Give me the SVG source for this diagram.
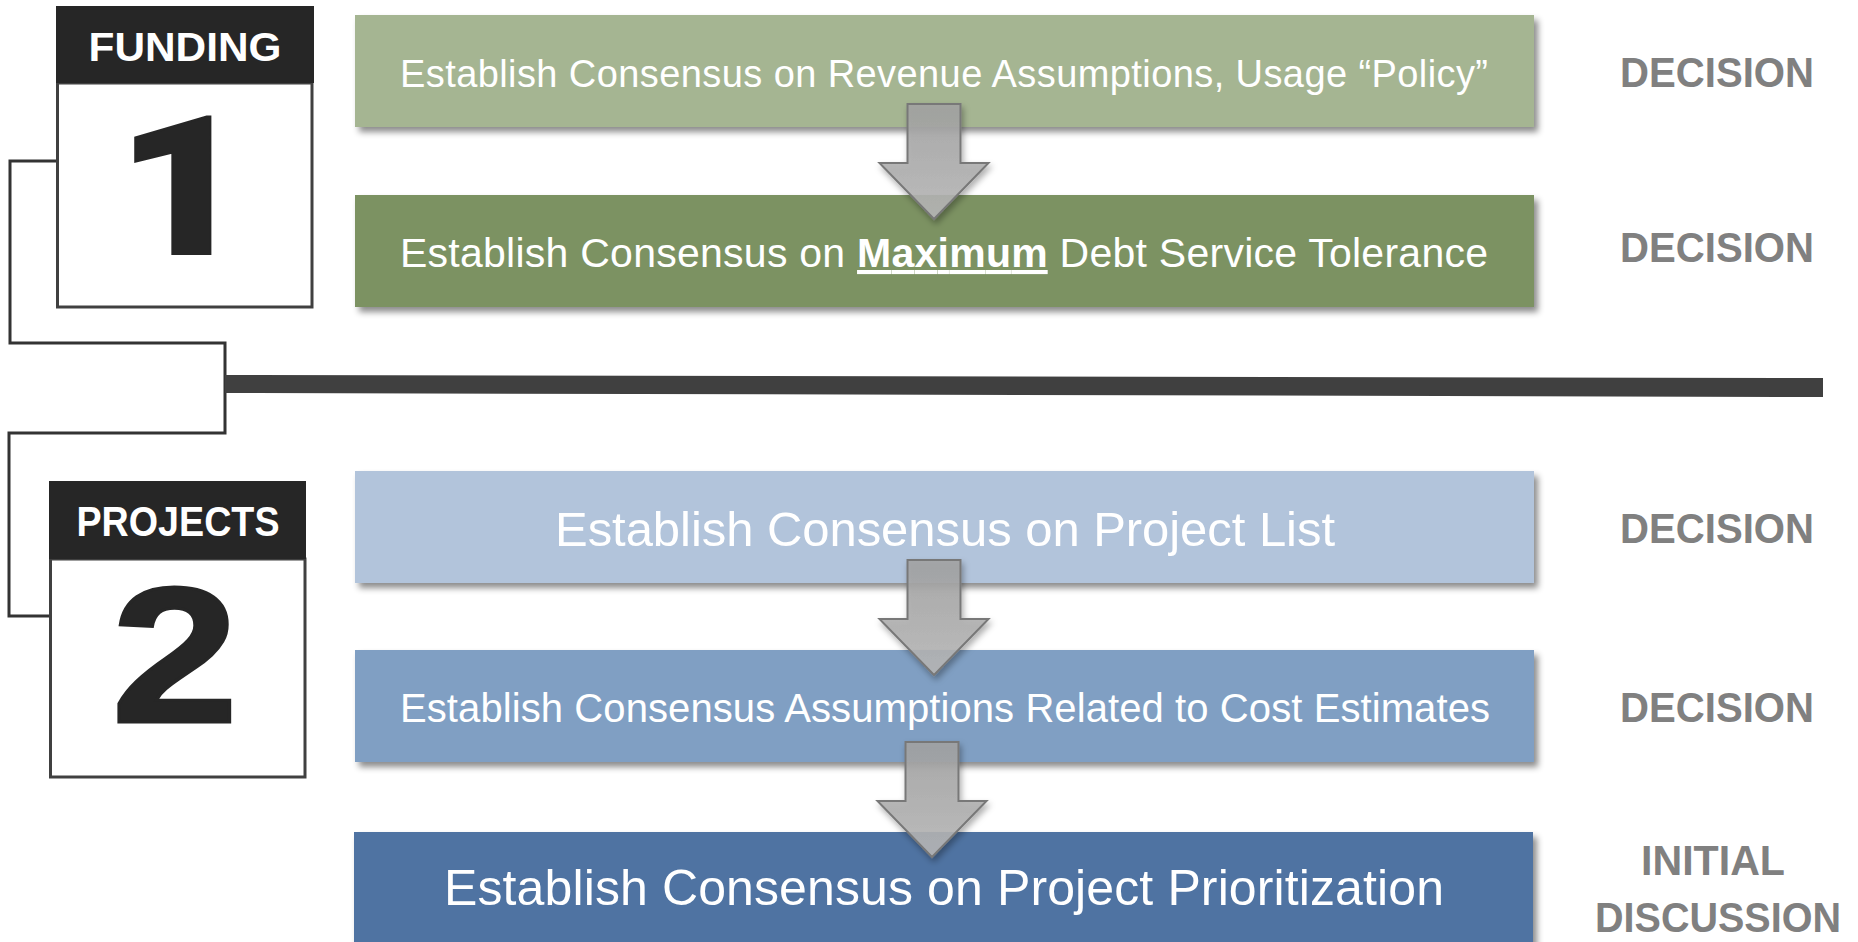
<svg xmlns="http://www.w3.org/2000/svg" width="1858" height="942" viewBox="0 0 1858 942">
<style>
.box{filter:url(#sh)}
.bt{font-family:"Liberation Sans",Arial,sans-serif;fill:#ffffff;text-anchor:middle}
.lab{font-family:"Liberation Sans",Arial,sans-serif;font-weight:bold;fill:#808080;font-size:42px;text-anchor:middle}
.hdr{fill:#262626}
.card{fill:#ffffff;stroke:#404040;stroke-width:3}
.ht{font-family:"Liberation Sans",Arial,sans-serif;font-weight:bold;fill:#ffffff;text-anchor:middle}
.num{font-family:"Liberation Sans",Arial,sans-serif;font-weight:bold;fill:#262626;stroke:#262626;stroke-width:3;text-anchor:middle}
.num1{font-family:Roboto,"Liberation Sans",Arial,sans-serif;font-weight:900;fill:#262626;stroke:#262626;stroke-width:2;text-anchor:middle}
.wire{fill:none;stroke:#333333;stroke-width:3}
.arr{fill:url(#ag);fill-opacity:0.88;stroke:#787878;stroke-width:2;filter:url(#ash)}
</style>
<defs>
<filter id="sh" x="-5%" y="-20%" width="110%" height="150%">
<feDropShadow dx="4" dy="5" stdDeviation="3" flood-color="#000" flood-opacity="0.45"/>
</filter>
<filter id="ash" x="-30%" y="-20%" width="160%" height="150%">
<feDropShadow dx="2" dy="4" stdDeviation="3" flood-color="#000" flood-opacity="0.35"/>
</filter>
<linearGradient id="ag" x1="0" y1="0" x2="0" y2="1">
<stop offset="0" stop-color="#A2A2A2"/>
<stop offset="1" stop-color="#B8B8B8"/>
</linearGradient>
<path id="arrow" d="M-26.5,0 H26.5 V59 H54.5 L0,115 L-54.5,59 H-26.5 Z"/>
</defs>
<rect width="1858" height="942" fill="#ffffff"/>

<g id="connectors">
<path class="wire" d="M56,161 H10 V343 H225 V433 H9 V616 H51"/>
<polygon points="225,375 1823,378 1823,397 225,393" fill="#404040"/>
</g>

<g id="funding">
<rect class="card" x="57.5" y="83" width="254.5" height="224"/>
<rect class="hdr" x="56" y="6" width="258" height="77"/>
<text class="ht" x="185" y="61" font-size="41" textLength="193" lengthAdjust="spacingAndGlyphs">FUNDING</text>
<text class="num1" transform="translate(183,254) scale(1.18,1)" font-size="194">1</text>
</g>

<g id="projects">
<rect class="card" x="50.5" y="559" width="254.5" height="218"/>
<rect class="hdr" x="49" y="481" width="257" height="78"/>
<text class="ht" x="178" y="536" font-size="42" textLength="203" lengthAdjust="spacingAndGlyphs">PROJECTS</text>
<text class="num" transform="translate(175,722) scale(1.18,1)" font-size="194">2</text>
</g>

<g id="step1">
<rect class="box" x="355" y="15" width="1179" height="112" fill="#A5B592"/>
<text class="bt" x="944" y="87" font-size="38" textLength="1088">Establish Consensus on Revenue Assumptions,  Usage “Policy”</text>
</g>

<g id="step2">
<rect class="box" x="355" y="195" width="1179" height="112" fill="#7C9262"/>
<text class="bt" x="944" y="267" font-size="41" textLength="1088">Establish Consensus on <tspan font-weight="bold" text-decoration="underline">Maximum</tspan> Debt Service Tolerance</text>
</g>

<g id="step3">
<rect class="box" x="355" y="471" width="1179" height="112" fill="#B2C4DB"/>
<text class="bt" x="945" y="546" font-size="49" textLength="780">Establish Consensus on Project List</text>
</g>

<g id="step4">
<rect class="box" x="355" y="650" width="1179" height="112" fill="#809FC3"/>
<text class="bt" x="945" y="722" font-size="40" textLength="1090">Establish Consensus Assumptions Related to Cost Estimates</text>
</g>

<g id="step5">
<rect class="box" x="354" y="832" width="1179" height="130" fill="#4F73A2"/>
<text class="bt" x="944" y="905" font-size="50" textLength="1000">Establish Consensus on Project Prioritization</text>
</g>

<g id="arrows">
<use href="#arrow" class="arr" transform="translate(934,104)"/>
<use href="#arrow" class="arr" transform="translate(934,560)"/>
<use href="#arrow" class="arr" transform="translate(932,742)"/>
</g>

<g id="labels">
<text class="lab" x="1717" y="87" textLength="194" lengthAdjust="spacingAndGlyphs">DECISION</text>
<text class="lab" x="1717" y="262" textLength="194" lengthAdjust="spacingAndGlyphs">DECISION</text>
<text class="lab" x="1717" y="543" textLength="194" lengthAdjust="spacingAndGlyphs">DECISION</text>
<text class="lab" x="1717" y="722" textLength="194" lengthAdjust="spacingAndGlyphs">DECISION</text>
<text class="lab" x="1713" y="875" textLength="144" lengthAdjust="spacingAndGlyphs">INITIAL</text>
<text class="lab" x="1718" y="932" textLength="246" lengthAdjust="spacingAndGlyphs">DISCUSSION</text>
</g>
</svg>
